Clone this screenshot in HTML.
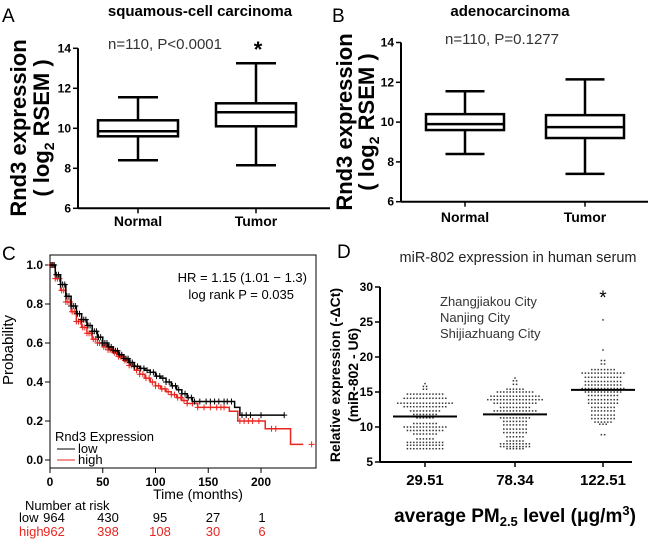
<!DOCTYPE html>
<html><head><meta charset="utf-8"><style>
body{margin:0;background:#fff}
svg{display:block;font-family:"Liberation Sans",Arial,sans-serif}
</style></head><body>
<svg id="fig" width="650" height="550" viewBox="0 0 650 550">
<g id="pA"></g>
<g id="pB"></g>
<g id="pC"></g>
<g id="pD"></g>
</svg>
<script>
// ---- Panel A/B box data ----
const boxCategories = ["Normal","Tumor"];
const aMin=[8.4,8.15], aQ1=[9.6,10.1], aMed=[9.85,10.8], aQ3=[10.4,11.25], aMax=[11.55,13.25];
const bMin=[8.4,7.4], bQ1=[9.6,9.2], bMed=[9.9,9.75], bQ3=[10.4,10.35], bMax=[11.55,12.15];
const boxTicks=[6,8,10,12,14];
// ---- Panel C KM data ----
const lowT=[0,5,10,15,20,25,30,35,40,45,50,55,60,65,70,75,80,85,90,95,100,105,110,115,120,125,130,135,175,175,180,222];
const lowP=[1,0.95,0.9,0.84,0.79,0.75,0.72,0.69,0.66,0.63,0.6,0.58,0.56,0.54,0.52,0.5,0.48,0.47,0.46,0.45,0.43,0.42,0.4,0.38,0.36,0.34,0.32,0.3,0.3,0.27,0.23,0.23];
const highT=[0,5,10,15,20,25,30,35,40,45,50,55,60,65,70,75,80,85,90,95,100,105,110,115,120,125,130,140,170,176,178,204,228,240];
const highP=[1,0.93,0.87,0.81,0.76,0.71,0.68,0.65,0.62,0.6,0.58,0.565,0.55,0.53,0.51,0.485,0.46,0.44,0.42,0.4,0.38,0.365,0.35,0.335,0.32,0.305,0.29,0.27,0.25,0.25,0.2,0.16,0.08,0.08];
const lowCens=[2,4,6,8,10,12,14,16,18,20,22,24,26,28,30,32,34,36,38,40,42,44,46,48,50,52,54,56,58,60,62,64,66,68,70,72,74,76,78,80,83,86,89,92,95,98,101,104,107,110,113,116,119,122,125,128,131,134,137,142,148,152,156,160,165,168,172,182,186,190,200,222];
const highCens=[1,3,5,7,9,11,13,15,17,19,21,23,25,27,29,31,33,35,37,39,41,43,45,47,49,51,53,55,57,59,61,63,65,67,69,71,73,75,77,79,82,85,88,91,94,97,100,103,106,109,112,115,118,121,124,127,130,135,140,146,152,158,162,165,180,184,188,192,198,210,214,248];
const kmTicksX=[0,50,100,150,200];
const kmTicksY=[0,0.2,0.4,0.6,0.8,1.0];
const riskLow=[964,430,95,27,1];
const riskHigh=[962,398,108,30,6];
// ---- Panel D scatter data (row level, count) ----
const dCategories=["29.51","78.34","122.51"];
const dMeans=[11.5,11.8,15.3];
const g1Levels=[16.2,15.8,15.4,14.7,14.1,13.4,12.9,12.3,11.8,11.3,10.5,10.0,9.5,9.0,8.3,7.8,7.4,6.9];
const g1Counts=[1,2,2,12,14,18,14,10,8,6,8,14,12,8,6,12,12,12];
const g2Levels=[17.0,16.6,16.1,15.4,15.0,14.4,13.9,13.4,12.8,12.3,11.8,11.3,10.8,10.3,9.7,9.2,8.6,8.0,7.6,7.2,6.9];
const g2Counts=[1,2,2,6,12,16,18,14,10,14,12,10,8,8,8,8,6,6,10,10,6];
const g3Levels=[25.3,21.0,19.5,19.0,18.2,17.7,17.1,16.5,16.0,15.5,15.0,14.5,13.9,13.4,12.8,12.3,11.7,11.2,10.7,10.4,8.9];
const g3Counts=[1,1,2,2,8,14,12,12,12,14,12,10,10,10,8,8,8,8,6,3,2];
const dTicks=[5,10,15,20,25,30];

const NS="http://www.w3.org/2000/svg";
function mk(parent,tag,attrs,text){const e=document.createElementNS(NS,tag);for(const k in attrs)e.setAttribute(k,attrs[k]);if(text!==undefined)e.textContent=text;parent.appendChild(e);return e;}

function boxPanel(g,o){
  const y=v=>o.y0-(v-6)*o.ppu;
  let e;
  e=mk(g,'line',{x1:o.ax,y1:y(14),x2:o.ax,y2:y(6),stroke:'#000','stroke-width':2});
  
  e=mk(g,'line',{x1:o.ax,y1:y(6),x2:o.axEnd,y2:y(6),stroke:'#000','stroke-width':2});
  
  boxTicks.forEach(t=>{
    mk(g,'line',{x1:o.ax-5,y1:y(t),x2:o.ax,y2:y(t),stroke:'#000','stroke-width':1.5});
    e=mk(g,'text',{x:o.ax-7,y:y(t)+4,'text-anchor':'end','font-size':12,'font-weight':'bold'},t);
    
  });
  boxCategories.forEach((c,i)=>{
    const cx=o.cx[i],hw=o.hw;
    mk(g,'line',{x1:cx,y1:y(6),x2:cx,y2:y(6)+5,stroke:'#000','stroke-width':1.5});
    e=mk(g,'text',{x:cx,y:o.labY,'text-anchor':'middle','font-size':14,'font-weight':'bold'},c);
    
    const bg=mk(g,'g',{stroke:'#000','stroke-width':2.5,fill:'none'});
    
    mk(bg,'line',{x1:cx,y1:y(o.max[i]),x2:cx,y2:y(o.q3[i])});
    mk(bg,'line',{x1:cx,y1:y(o.q1[i]),x2:cx,y2:y(o.min[i])});
    mk(bg,'line',{x1:cx-hw/2,y1:y(o.max[i]),x2:cx+hw/2,y2:y(o.max[i])});
    mk(bg,'line',{x1:cx-hw/2,y1:y(o.min[i]),x2:cx+hw/2,y2:y(o.min[i])});
    mk(bg,'rect',{x:cx-hw,y:y(o.q3[i]),width:2*hw,height:y(o.q1[i])-y(o.q3[i])});
    mk(bg,'line',{x1:cx-hw,y1:y(o.med[i]),x2:cx+hw,y2:y(o.med[i])});
  });
  e=mk(g,'text',{x:o.lx1,y:o.ymid,'text-anchor':'middle','font-size':22,'font-weight':'bold',transform:`rotate(-90 ${o.lx1} ${o.ymid})`},'Rnd3 expression');
  
  e=mk(g,'text',{x:o.lx2,y:o.ymid,'text-anchor':'middle','font-size':22,'font-weight':'bold',transform:`rotate(-90 ${o.lx2} ${o.ymid})`});
  
  e.innerHTML='( log<tspan font-size="14" dy="5">2</tspan><tspan dy="-5"> RSEM  )</tspan>';
  e=mk(g,'text',{x:o.panelX,y:22,'font-size':19},o.letter);
  
  e=mk(g,'text',{x:o.titleX,y:16,'text-anchor':'middle','font-size':15,'font-weight':'bold'},o.title);
  
  e=mk(g,'text',{x:o.nX,y:o.nY,'text-anchor':'middle','font-size':15,fill:'#333'},o.nText);
  
}
boxPanel(document.getElementById('pA'),{ax:78,axEnd:330,y0:208.3,ppu:20,cx:[138,256],hw:40,labY:226,
  min:aMin,q1:aQ1,med:aMed,q3:aQ3,max:aMax,lx1:26,lx2:49,ymid:128,panelX:2,letter:'A',titleX:200,
  title:'squamous-cell carcinoma',nX:165,nY:49,nText:'n=110, P<0.0001'});
{const e=mk(document.getElementById('pA'),'text',{x:258,y:57,'text-anchor':'middle','font-size':22,'font-weight':'bold'},'*');
}
boxPanel(document.getElementById('pB'),{ax:401,axEnd:648,y0:201.7,ppu:19.9,cx:[465,585],hw:39,labY:222,
  min:bMin,q1:bQ1,med:bMed,q3:bQ3,max:bMax,lx1:352,lx2:374,ymid:122,panelX:332,letter:'B',titleX:510,
  title:'adenocarcinoma',nX:502,nY:44,nText:'n=110, P=0.1277'});

// ---- Panel C ----
(function(){
  const g=document.getElementById('pC');
  const x=t=>50+t*1.055, y=p=>460-p*195;
  let e;
  e=mk(g,'rect',{x:50,y:255,width:266,height:213,fill:'none',stroke:'#000','stroke-width':1});
  
  kmTicksX.forEach(t=>{mk(g,'line',{x1:x(t),y1:468,x2:x(t),y2:473,stroke:'#000'});
    e=mk(g,'text',{x:x(t),y:486,'text-anchor':'middle','font-size':12,'font-weight':'bold'},t);
    });
  kmTicksY.forEach(t=>{mk(g,'line',{x1:45,y1:y(t),x2:50,y2:y(t),stroke:'#000'});
    e=mk(g,'text',{x:43,y:y(t)+4,'text-anchor':'end','font-size':12,'font-weight':'bold'},t.toFixed(1));
    });
  function step(T,P,col,name,cens){
    let d=`M${x(T[0])},${y(P[0])}`;
    for(let i=1;i<T.length;i++){d+=` H${x(T[i])} V${y(P[i])}`;}
    e=mk(g,'path',{d,fill:'none',stroke:col,'stroke-width':1.5});
    
    const at=t=>{let p=P[0];for(let i=0;i<T.length;i++){if(T[i]<=t)p=P[i];}return p;};
    const cg=mk(g,'g',{stroke:col,'stroke-width':1});
    
    cens.forEach(t=>{const cx=x(t),cy=y(at(t));mk(cg,'path',{d:`M${cx-3},${cy}H${cx+3}M${cx},${cy-3}V${cy+3}`});});
  }
  step(highT,highP,'#e8251f','high',highCens);
  step(lowT,lowP,'#000','low',lowCens);
  e=mk(g,'text',{x:13,y:350,'text-anchor':'middle','font-size':15,transform:'rotate(-90 13 350)'},'Probability');
  
  e=mk(g,'text',{x:198,y:499,'text-anchor':'middle','font-size':14},'Time (months)');
  
  e=mk(g,'text',{x:307,y:282,'text-anchor':'end','font-size':13},'HR = 1.15 (1.01 − 1.3)');
  
  e=mk(g,'text',{x:294,y:299,'text-anchor':'end','font-size':13},'log rank P = 0.035');
  
  e=mk(g,'text',{x:55,y:441,'font-size':13},'Rnd3 Expression');
  
  mk(g,'line',{x1:57,y1:449,x2:75,y2:449,stroke:'#000'});
  e=mk(g,'text',{x:78,y:453,'font-size':13},'low');
  
  mk(g,'line',{x1:57,y1:460,x2:75,y2:460,stroke:'#e8251f'});
  e=mk(g,'text',{x:78,y:464,'font-size':13},'high');
  
  mk(g,'text',{x:2,y:260,'font-size':19},'C');
  e=mk(g,'text',{x:25,y:510,'font-size':13},'Number at  risk');
  
  e=mk(g,'text',{x:19,y:522,'font-size':13},'low');
  
  e=mk(g,'text',{x:19,y:536,'font-size':13,fill:'#e8251f'},'high');
  
  const rx=[54,108,160,213,262];
  riskLow.forEach((v,i)=>{e=mk(g,'text',{x:rx[i],y:522,'text-anchor':'middle','font-size':13},v);
    });
  riskHigh.forEach((v,i)=>{e=mk(g,'text',{x:rx[i],y:536,'text-anchor':'middle','font-size':13,fill:'#e8251f'},v);
    });
})();

// ---- Panel D ----
(function(){
  const g=document.getElementById('pD');
  const y=v=>462-(v-5)*7;
  const cx=[425,515,603];
  let e;
  e=mk(g,'line',{x1:380,y1:y(30),x2:380,y2:y(5),stroke:'#000','stroke-width':2});
  
  e=mk(g,'line',{x1:380,y1:y(5),x2:632,y2:y(5),stroke:'#000','stroke-width':2});
  
  dTicks.forEach(t=>{mk(g,'line',{x1:375,y1:y(t),x2:380,y2:y(t),stroke:'#000','stroke-width':1.5});
    e=mk(g,'text',{x:373,y:y(t)+4,'text-anchor':'end','font-size':12,'font-weight':'bold'},t);
    });
  const groups=[[g1Levels,g1Counts],[g2Levels,g2Counts],[g3Levels,g3Counts]];
  dCategories.forEach((c,i)=>{
    mk(g,'line',{x1:cx[i],y1:y(5),x2:cx[i],y2:y(5)+5,stroke:'#000','stroke-width':1.5});
    e=mk(g,'text',{x:cx[i],y:485,'text-anchor':'middle','font-size':15,'font-weight':'bold'},c);
    
    const dg=mk(g,'g',{fill:'#333'});
    
    const [L,C]=groups[i];
    L.forEach((lv,j)=>{const n=C[j];for(let k=0;k<n;k++){const dx=(k-(n-1)/2)*3.2;
      mk(dg,'rect',{x:cx[i]+dx-0.75,y:y(lv)-0.75,width:1.5,height:1.5});}});
    e=mk(g,'line',{x1:cx[i]-32,y1:y(dMeans[i]),x2:cx[i]+32,y2:y(dMeans[i]),stroke:'#000','stroke-width':2});
    
  });
  e=mk(g,'text',{x:603,y:304,'text-anchor':'middle','font-size':19},'*');
  
  [['Zhangjiakou City',306],['Nanjing City',322],['Shijiazhuang City',338]].forEach(([t,yy])=>{
    e=mk(g,'text',{x:440,y:yy,'font-size':13,fill:'#333'},t);
    });
  e=mk(g,'text',{x:518,y:262,'text-anchor':'middle','font-size':14.5,fill:'#222'},'miR-802 expression in human serum');
  
  mk(g,'text',{x:337,y:258,'font-size':19},'D');
  e=mk(g,'text',{x:340,y:375,'text-anchor':'middle','font-size':14,'font-weight':'bold',transform:'rotate(-90 340 375)'},'Relative expression (-ΔCt)');
  
  e=mk(g,'text',{x:358,y:375,'text-anchor':'middle','font-size':14,'font-weight':'bold',transform:'rotate(-90 358 375)'},'(miR-802 - U6)');
  
  e=mk(g,'text',{x:515,y:522,'text-anchor':'middle','font-size':19,'font-weight':'bold'});
  
  e.innerHTML='average PM<tspan font-size="13" dy="4">2.5</tspan><tspan dy="-4"> level (μg/m</tspan><tspan font-size="13" dy="-7">3</tspan><tspan dy="7">)</tspan>';
})();
</script>
</body></html>
